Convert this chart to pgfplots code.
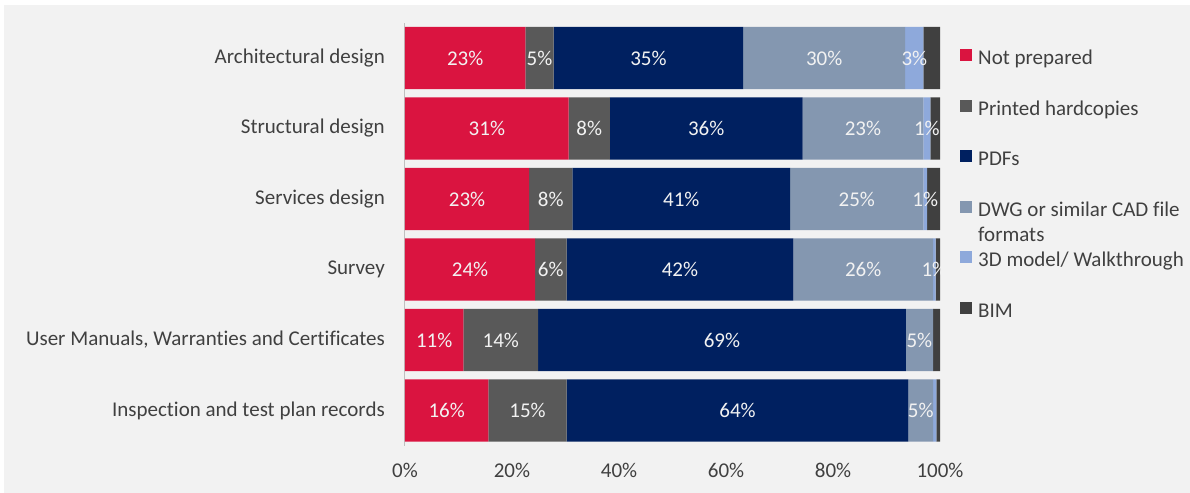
\documentclass[border=0pt]{standalone}
\usepackage{fontspec}
\setmainfont{Carlito}[Ligatures=NoCommon]
\usepackage{pgfplots}
\pgfplotsset{compat=1.18}
\definecolor{cNP}{HTML}{DA1440}
\definecolor{cPH}{HTML}{595959}
\definecolor{cPDF}{HTML}{002060}
\definecolor{cDWG}{HTML}{8497B0}
\definecolor{cTD}{HTML}{8EA9DB}
\definecolor{cBIM}{HTML}{404040}
\definecolor{bgGray}{HTML}{F2F2F2}
\definecolor{axGray}{HTML}{BFBFBF}
\definecolor{txt}{HTML}{404040}
\definecolor{lab}{HTML}{F2F2F2}
\newcommand{\chartfont}{\fontsize{21bp}{25bp}\selectfont}
\begin{document}
\chartfont
\begin{tikzpicture}
\path[use as bounding box] (0,0) rectangle (1190bp,493bp);
\fill[bgGray] (4bp,0) rectangle (1190bp,488bp);
\begin{axis}[
  at={(405bp,47.25bp)}, anchor=south west,
  scale only axis, width=535bp, height=423bp,
  xbar stacked, bar width=0.88,
  xmin=0, xmax=100, ymin=-0.5, ymax=5.5,
  axis x line*=bottom, axis y line*=left,
  x axis line style={draw=none},
  y axis line style={draw=axGray, line width=1bp, -},
  xtick={0,20,40,60,80,100},
  xticklabels={0\%,20\%,40\%,60\%,80\%,100\%},
  ytick={0,1,2,3,4,5},
  yticklabels={Inspection and test plan records,{User Manuals, Warranties and Certificates},Survey,Services design,Structural design,Architectural design},
  major tick length=0pt, tick style={draw=none},
  xticklabel style={anchor=center, yshift=-25bp, text=txt, font=\chartfont},
  yticklabel style={anchor=east, inner sep=0pt, xshift=-20bp, text=txt, font=\chartfont},
  clip=false,
  legend style={at={(1.0374,0.9375)}, anchor=north west, draw=none, fill=none,
    inner sep=0pt, row sep=31bp, font=\chartfont, text=txt,
    nodes={inner sep=0pt, text height=14bp, text depth=4bp},
    /tikz/every odd column/.append style={column sep=6bp}},
  legend cell align=left,
  legend image code/.code={\fill[#1] (0bp,-1.5bp) rectangle (12bp,10.5bp);},
]
\addplot[fill=cNP, draw=none] coordinates {(15.6,0) (10.9,1) (24.3,2) (23.2,3) (30.6,4) (22.5,5)};
\addplot[fill=cPH, draw=none] coordinates {(14.6,0) (14.0,1) (5.9,2) (8.1,3) (7.7,4) (5.3,5)};
\addplot[fill=cPDF, draw=none] coordinates {(63.9,0) (68.7,1) (42.4,2) (40.7,3) (36.0,4) (35.4,5)};
\addplot[fill=cDWG, draw=none] coordinates {(4.6,0) (5.1,1) (26.1,2) (24.9,3) (22.6,4) (30.3,5)};
\addplot[fill=cTD, draw=none] coordinates {(0.6,0) (0.0,1) (0.5,2) (0.7,3) (1.3,4) (3.4,5)};
\addplot[fill=cBIM, draw=none] coordinates {(0.7,0) (1.3,1) (0.8,2) (2.4,3) (1.8,4) (3.1,5)};
\addlegendentry{Not prepared}
\addlegendentry{Printed hardcopies}
\addlegendentry{PDFs}
\addlegendentry{\raisebox{0pt}[\height][0pt]{\begin{tabular}[t]{@{}l@{}}DWG or similar CAD file\\formats\end{tabular}}}
\addlegendentry{3D model/ Walkthrough}
\addlegendentry{BIM}
\end{axis}
\begin{axis}[
  at={(405bp,47.25bp)}, anchor=south west,
  scale only axis, width=535bp, height=423bp,
  xmin=0, xmax=100, ymin=-0.5, ymax=5.5,
  hide axis, clip=false,
]
\addplot[only marks, mark=*, mark size=0pt,
  scatter/use mapped color={draw=none, fill=none},
  mark options={draw=none, fill=none},
  point meta=explicit symbolic,
  nodes near coords={\pgfplotspointmeta\%},
  nodes near coords align=center,
  every node near coord/.append style={anchor=center, text=lab, font=\chartfont, inner sep=0pt}]
table[x=x, y=y, meta=l] {
x y l
11.25 5 23
25.15 5 5
45.5 5 35
78.35 5 30
95.2 5 3
15.3 4 31
34.45 4 8
56.3 4 36
85.6 4 23
97.55 4 1
11.6 3 23
27.25 3 8
51.65 3 41
84.45 3 25
97.25 3 1
12.15 2 24
27.25 2 6
51.4 2 42
85.65 2 26
98.95 2 1
5.45 1 11
17.9 1 14
59.25 1 69
96.15 1 5
7.8 0 16
22.9 0 15
62.15 0 64
96.4 0 5
};
\end{axis}
\end{tikzpicture}
\end{document}
